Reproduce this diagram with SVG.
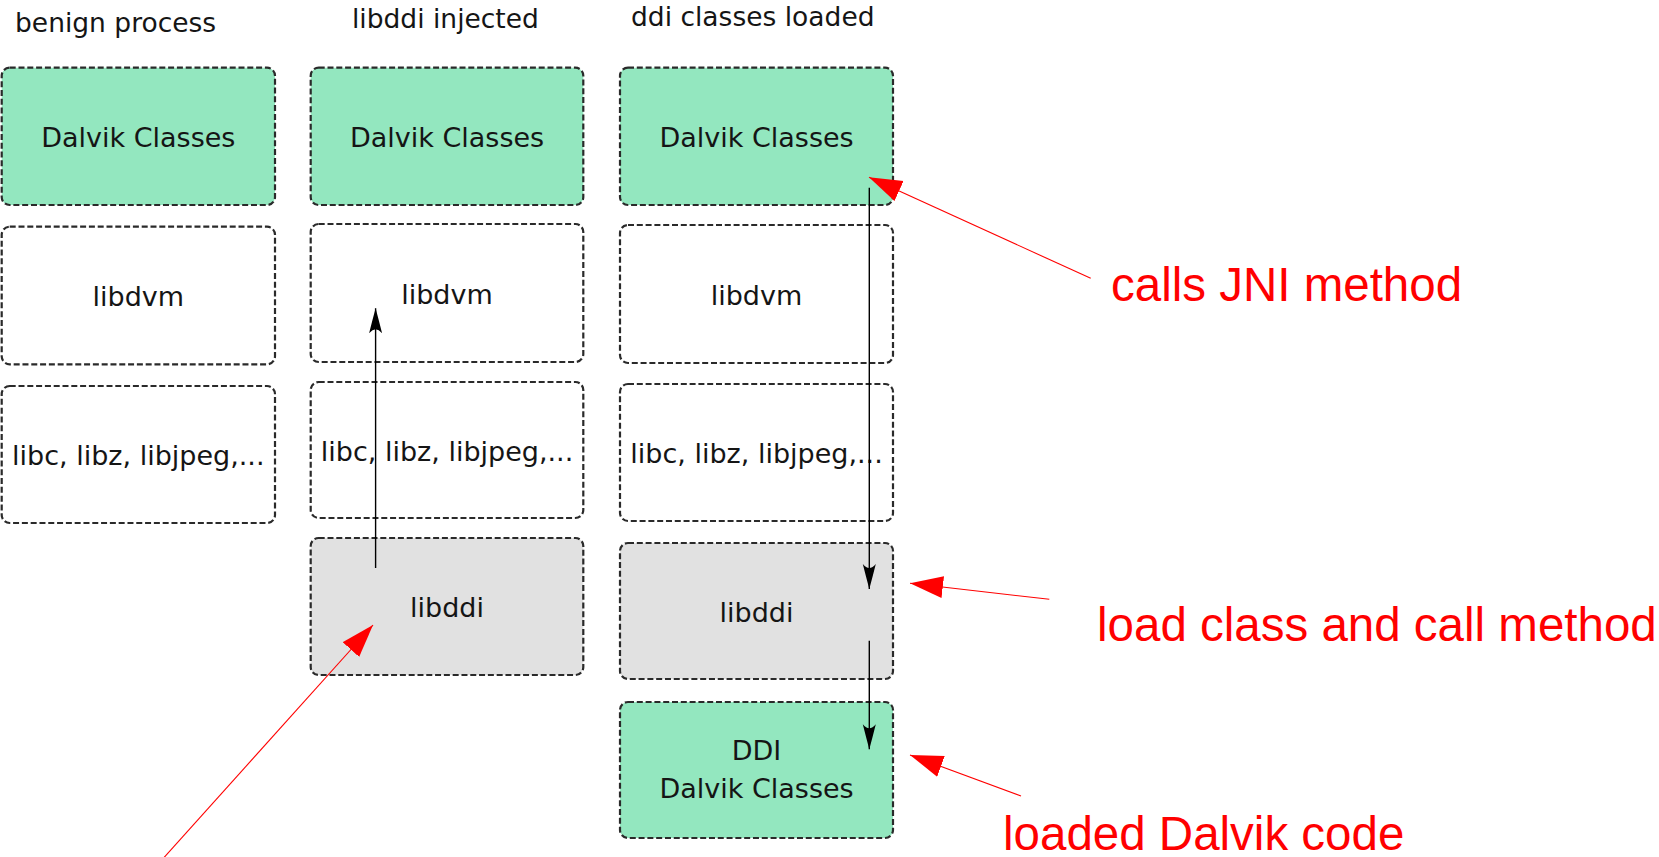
<svg xmlns="http://www.w3.org/2000/svg" width="1659" height="857" viewBox="0 0 1659 857">
<style>
.box{stroke:#2a2a2a;stroke-width:2.2;stroke-dasharray:6,2.8}
.green{fill:#93e7bf}
.white{fill:#ffffff}
.gray{fill:#e1e1e1}
.t{font-family:"DejaVu Sans",sans-serif;font-size:27px;fill:#151515;text-anchor:middle}
.title{font-family:"DejaVu Sans",sans-serif;font-size:26.5px;fill:#151515}
.red{font-family:"Liberation Sans",Arial,sans-serif;font-size:47.5px;fill:#ff0000}
.blk{stroke:#000;stroke-width:1.4;fill:none;marker-end:url(#ah)}
.rl{stroke:#ff0000;stroke-width:1.1;fill:none;marker-end:url(#rh)}
</style>
<defs>
<marker id="ah" markerUnits="userSpaceOnUse" markerWidth="30" markerHeight="16" refX="25" refY="6.5" orient="auto">
<path d="M25,6.5 Q12,3 0,0 Q8,6.5 0,13 Q12,10 25,6.5 Z" fill="#000"/>
</marker>
<marker id="rh" markerUnits="userSpaceOnUse" markerWidth="36" markerHeight="24" refX="33" refY="11" orient="auto">
<path d="M33,11 L0,0 L0,22 Z" fill="#ff0000"/>
</marker>
</defs>
<rect width="1659" height="857" fill="#fff"/>
<g id="titles">
<text class="title" x="15" y="32">benign process</text>
<text class="title" x="352" y="28">libddi injected</text>
<text class="title" x="631" y="26">ddi classes loaded</text>
</g>
<g id="c1-dalvik"><rect class="box green" x="1.7" y="67.7" width="273.3" height="137.3" rx="8"/><text class="t" x="138.3" y="146.7">Dalvik Classes</text></g>
<g id="c1-libdvm"><rect class="box white" x="1.7" y="226.7" width="273.3" height="137.6" rx="8"/><text class="t" x="138.3" y="306">libdvm</text></g>
<g id="c1-libc"><rect class="box white" x="1.7" y="386" width="273.3" height="137" rx="8"/><text class="t" x="138.3" y="465">libc, libz, libjpeg,...</text></g>
<g id="c2-dalvik"><rect class="box green" x="310.7" y="67.7" width="272.6" height="137.3" rx="8"/><text class="t" x="447" y="146.7">Dalvik Classes</text></g>
<g id="c2-libdvm"><rect class="box white" x="310.7" y="224" width="272.6" height="138" rx="8"/><text class="t" x="447" y="303.5">libdvm</text></g>
<g id="c2-libc"><rect class="box white" x="310.7" y="382" width="272.6" height="136" rx="8"/><text class="t" x="447" y="460.5">libc, libz, libjpeg,...</text></g>
<g id="c2-libddi"><rect class="box gray" x="310.7" y="538" width="272.6" height="137" rx="8"/><text class="t" x="447" y="617">libddi</text></g>
<g id="c3-dalvik"><rect class="box green" x="620" y="67.7" width="273" height="137.3" rx="8"/><text class="t" x="756.5" y="146.7">Dalvik Classes</text></g>
<g id="c3-libdvm"><rect class="box white" x="620" y="225" width="273" height="138" rx="8"/><text class="t" x="756.5" y="304.5">libdvm</text></g>
<g id="c3-libc"><rect class="box white" x="620" y="384" width="273" height="137" rx="8"/><text class="t" x="756.5" y="463">libc, libz, libjpeg,...</text></g>
<g id="c3-libddi"><rect class="box gray" x="620" y="543" width="273" height="136" rx="8"/><text class="t" x="756.5" y="621.5">libddi</text></g>
<g id="c3-ddi"><rect class="box green" x="620" y="702" width="273" height="136" rx="8"/><text class="t" x="756.5" y="760">DDI</text><text class="t" x="756.5" y="797.5">Dalvik Classes</text></g>
<g id="connectors">
<path class="blk" d="M375.6,568 V308.3"/>
<path class="blk" d="M869.3,187.7 V589"/>
<path class="blk" d="M869.3,640.7 V749.3"/>
<path class="rl" d="M1090.7,278.3 L869,177.3"/>
<path class="rl" d="M1049.3,599.3 L910,583.3"/>
<path class="rl" d="M1021,796 L910,755"/>
<path class="rl" d="M160,862 L373,625"/>
</g>
<g id="labels">
<text class="red" x="1111" y="300.7">calls JNI method</text>
<text class="red" x="1097" y="641">load class and call method</text>
<text class="red" x="1003" y="850">loaded Dalvik code</text>
</g>
</svg>
